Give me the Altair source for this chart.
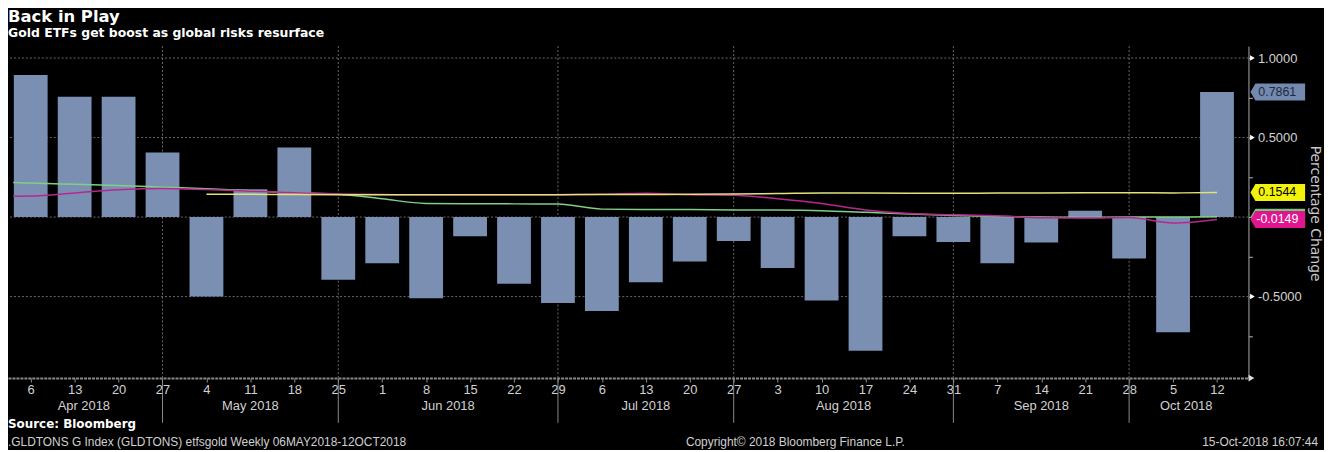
import altair as alt
import pandas as pd

# ---------------- data ----------------
week_dates = ["2018-04-06", "2018-04-13", "2018-04-20", "2018-04-27", "2018-05-04",
              "2018-05-11", "2018-05-18", "2018-05-25", "2018-06-01", "2018-06-08",
              "2018-06-15", "2018-06-22", "2018-06-29", "2018-07-06", "2018-07-13",
              "2018-07-20", "2018-07-27", "2018-08-03", "2018-08-10", "2018-08-17",
              "2018-08-24", "2018-08-31", "2018-09-07", "2018-09-14", "2018-09-21",
              "2018-09-28", "2018-10-05", "2018-10-12"]
day_labels = ["6", "13", "20", "27", "4", "11", "18", "25", "1", "8", "15", "22", "29",
              "6", "13", "20", "27", "3", "10", "17", "24", "31", "7", "14", "21", "28",
              "5", "12"]
etf_change = [0.894, 0.756, 0.756, 0.406, -0.50, 0.175, 0.4375, -0.394, -0.29, -0.51,
              -0.12, -0.42, -0.54, -0.59, -0.41, -0.28, -0.15, -0.32, -0.525, -0.84,
              -0.12, -0.156, -0.29, -0.16, 0.04, -0.26, -0.725, 0.7861]

# line positions: a leading point (Apr 3) then one point per week
line_pos = [-0.4] + list(range(28))
green_line = [0.218, 0.214, 0.206, 0.198, 0.188, 0.178, 0.165, 0.152, 0.144, 0.115,
              0.086, 0.084, 0.083, 0.082, 0.050, 0.048, 0.047, 0.045, 0.044, 0.040,
              0.030, 0.020, 0.010, 0.003, 0.000, -0.002, 0.000, 0.000, 0.002]
magenta_line = [0.131, 0.132, 0.152, 0.172, 0.180, 0.173, 0.163, 0.153, 0.145, 0.142,
                0.140, 0.140, 0.140, 0.140, 0.143, 0.150, 0.140, 0.137, 0.115, 0.085,
                0.045, 0.022, 0.015, 0.008, -0.004, -0.006, -0.002, -0.037, -0.0149]
yellow_line = [None, None, None, None, None,
               0.144, 0.143, 0.142, 0.141, 0.140, 0.140, 0.140, 0.140, 0.141, 0.142,
               0.142, 0.143, 0.145, 0.148, 0.152, 0.151, 0.150, 0.150, 0.151, 0.152,
               0.153, 0.153, 0.152, 0.1544]

months = ["Apr 2018", "May 2018", "Jun 2018", "Jul 2018", "Aug 2018", "Sep 2018", "Oct 2018"]
month_break_idx = [3, 7, 12, 16, 21, 25]   # last week of each month (separators)
range_start, range_end = -0.583, 27.6

grid_values = [1.0, 0.5, 0.0, -0.5]
label_values = [1.0, 0.5, -0.5]
tick_values = [1.0, 0.75, 0.5, 0.25, 0.0, -0.25, -0.5, -0.75]

tag_values = [0.7861, 0.1544, 0.0, -0.0149]
tag_labels = ["0.7861", "0.1544", "", "-0.0149"]
tag_fill = ["#7389ad", "#f2f20a", "#7cc47f", "#e0168f"]
tag_text_color = ["#1b2a44", "#000000", "#000000", "#ffffff"]

# ---------------- tables ----------------
bars_df = pd.DataFrame({"x": list(range(len(week_dates))), "y": etf_change, "date": week_dates})
lines_df = pd.concat([
    pd.DataFrame({"x": line_pos, "y": green_line, "s": "green"}),
    pd.DataFrame({"x": line_pos, "y": magenta_line, "s": "magenta"}),
    pd.DataFrame({"x": line_pos, "y": yellow_line, "s": "yellow"}),
], ignore_index=True)
edges = [range_start] + month_break_idx + [range_end]
month_df = pd.DataFrame({"x": [(edges[i] + edges[i + 1]) / 2 for i in range(len(months))],
                         "label": months})
sep_df = pd.DataFrame({"x": month_break_idx})
hgrid_df = pd.DataFrame({"y": grid_values})
tri_df = pd.DataFrame({"y": label_values})
tags_df = pd.DataFrame({"y": tag_values, "label": tag_labels,
                        "fill": tag_fill, "tc": tag_text_color})
one = pd.DataFrame({"a": [0]})

# ---------------- scales / axes ----------------
xs = alt.Scale(domain=[-0.404, 27.603], nice=False, zero=False)
ys = alt.Scale(domain=[-1.0125, 1.075], nice=False, zero=False)

label_font = "Liberation Sans"
lbl_color = "#d2d2d2"

day_expr = "[" + ",".join("'%s'" % d for d in day_labels) + "][datum.value]"
x_axis = alt.Axis(values=list(range(len(day_labels))), labelExpr=day_expr, title=None,
                  grid=False, tickSize=4, tickColor="#8a8a8a", domainColor="#8a8a8a",
                  domainWidth=2, domainDash=[3, 1], labelColor=lbl_color,
                  labelFont=label_font, labelFontSize=13, labelPadding=2,
                  labelFlush=False, labelOverlap=False)
y_axis = alt.Axis(orient="right", values=tick_values,
                  labelExpr="(datum.value==1||datum.value==0.5||datum.value==-0.5)?replace(format(datum.value,'.4f'),'\u2212','-'):''",
                  title="Percentage Change", grid=False, tickSize=4, tickColor="#bbbbbb",
                  domainColor="#aaaaaa", domainWidth=1, labelColor=lbl_color,
                  labelFont=label_font, labelFontSize=13, labelPadding=5,
                  labelFlush=False, labelOverlap=False,
                  titleColor="#c8c8c8", titleFont="DejaVu Sans", titleFontSize=14,
                  titleFontWeight="normal", titleAngle=90, titleX=66, titleY=168,
                  titleAlign="center", titleBaseline="middle")


def X():
    return alt.X("x:Q", scale=xs, axis=x_axis)


def Y():
    return alt.Y("y:Q", scale=ys, axis=y_axis)


# ---------------- layers ----------------
hgrid = alt.Chart(hgrid_df).mark_rule(color="#6a6a6a", strokeDash=[2, 2], strokeWidth=1).encode(y=Y())
vgrid = alt.Chart(sep_df).mark_rule(color="#6a6a6a", strokeDash=[2, 2], strokeWidth=1).encode(x=X())
seps = alt.Chart(sep_df).mark_rule(color="#8a8a8a", strokeWidth=1).encode(
    x=X(), y=alt.value(335), y2=alt.value(379))

bars = alt.Chart(bars_df).mark_bar(width=34, color="#7b8fb2").encode(x=X(), y=Y())

lines = alt.Chart(lines_df).mark_line(strokeWidth=1.5, interpolate="monotone").encode(
    x=X(), y=Y(),
    color=alt.Color("s:N", scale=alt.Scale(domain=["green", "magenta", "yellow"],
                                           range=["#7fcf86", "#b8278f", "#e2e27c"]),
                    legend=None))

months_txt = alt.Chart(month_df).mark_text(font=label_font, fontSize=13, color=lbl_color,
                                           baseline="middle").encode(
    x=X(), y=alt.value(362), text="label:N")

tri = alt.Chart(tri_df).mark_point(shape="triangle-right", filled=True, size=30,
                                   color="#ffffff", opacity=1).encode(x=alt.value(1252), y=Y())
arrow = alt.Chart(one).mark_point(shape="triangle-right", filled=True, size=45,
                                  color="#dddddd", opacity=1).encode(
    x=alt.value(1251), y=alt.value(334))

tag_path = "M-1,0L-0.818,-0.309L1,-0.309L1,0.309L-0.818,0.309Z"
tag_box = alt.Chart(tags_df).mark_point(shape=tag_path, filled=True, size=3025, opacity=1,
                                        strokeWidth=0).encode(
    x=alt.value(1277.5), y=Y(), color=alt.Color("fill:N", scale=None))
tag_txt = alt.Chart(tags_df).mark_text(font=label_font, fontSize=12.5, align="center",
                                       baseline="middle").encode(
    x=alt.value(1277), y=Y(), text="label:N", color=alt.Color("tc:N", scale=None))


def note(txt, x, y, size, weight="normal", color="#ffffff", align="left", font=label_font):
    return alt.Chart(one).mark_text(text=txt, font=font, fontSize=size, fontWeight=weight,
                                    color=color, align=align, baseline="alphabetic").encode(
        x=alt.value(x), y=alt.value(y))


title = note("Back in Play", 0, -24, 16.5, "bold", "#ffffff", font="DejaVu Sans")
subtitle = note("Gold ETFs get boost as global risks resurface", 0, -9, 12.5, "bold",
                "#ffffff", font="DejaVu Sans")
source = note("Source: Bloomberg", 0, 384, 12, "bold", "#ffffff", font="DejaVu Sans")
ticker = note(".GLDTONS G Index (GLDTONS) etfsgold  Weekly 06MAY2018-12OCT2018", 0, 402, 12,
              "normal", "#d0d0d0")
copyright_ = note("Copyright\u00a9 2018 Bloomberg Finance L.P.", 682, 402, 12, "normal", "#d0d0d0")
stamp = note("15-Oct-2018 16:07:44", 1318, 402, 12, "normal", "#d0d0d0", align="right")

chart = alt.layer(
    hgrid, vgrid, seps, bars, lines, months_txt, tri, arrow, tag_box, tag_txt,
    title, subtitle, source, ticker, copyright_, stamp
).properties(
    width=1248, height=334,
    autosize=alt.AutoSizeParams(type="none"),
    padding={"left": 0, "top": 37, "right": 76, "bottom": 71},
    background="#000000",
).configure_view(strokeWidth=0)

chart.save("out.html", embed_options={"renderer": "svg", "actions": False})
